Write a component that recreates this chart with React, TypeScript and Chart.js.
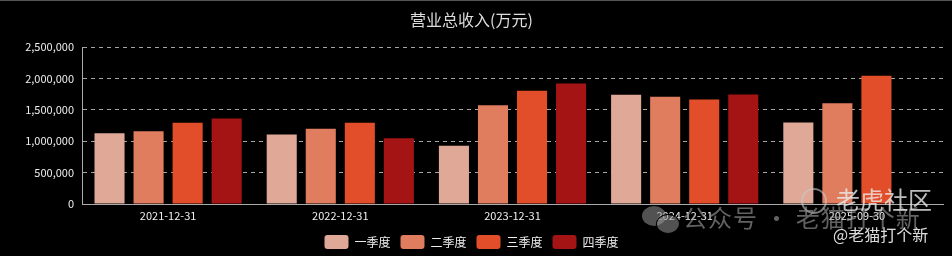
import React, { useEffect, useRef } from "react";
import { Chart, registerables } from "chart.js";

Chart.register(...registerables);

const categories = ["2021-12-31", "2022-12-31", "2023-12-31", "2024-12-31", "2025-09-30"];
const seriesNames = ["一季度", "二季度", "三季度", "四季度"];
const q1 = [1130000, 1110000, 930000, 1740000, 1300000];
const q2 = [1160000, 1200000, 1576000, 1710000, 1608000];
const q3 = [1295000, 1295000, 1804000, 1667000, 2043000];
const q4 = [1364000, 1050000, 1920000, 1746000, null];
const seriesColors = ["#E0A897", "#E17D5F", "#E34E2A", "#A51414"];
const yTicks = [0, 500000, 1000000, 1500000, 2000000, 2500000];

const FONT = "'Noto Sans CJK SC', 'Noto Sans', sans-serif";

export default function App() {
  const ref = useRef<HTMLCanvasElement | null>(null);

  useEffect(() => {
    document.body.style.margin = "0";
    document.body.style.background = "#000";
    const ctx = ref.current!.getContext("2d")!;
    const values = [q1, q2, q3, q4];
    const chart = new Chart(ctx, {
      type: "bar",
      data: {
        labels: categories,
        datasets: seriesNames.map((name, i) => ({
          label: name,
          data: values[i],
          backgroundColor: seriesColors[i],
          borderWidth: 0,
          categoryPercentage: 0.907,
          barPercentage: 0.77,
        })),
      },
      options: {
        animation: false,
        responsive: false,
        maintainAspectRatio: false,
        layout: { padding: { left: 0, right: 9, top: 0, bottom: -3 } },
        plugins: {
          title: {
            display: true,
            text: "营业总收入(万元)",
            color: "#dddddd",
            font: { family: FONT, size: 16, weight: "normal" },
            padding: { top: 10, bottom: 18 },
          },
          legend: {
            position: "bottom",
            labels: {
              color: "#eeeeee",
              font: { family: FONT, size: 12 },
              boxWidth: 24,
              boxHeight: 14,
              padding: 10,
              useBorderRadius: true,
              borderRadius: 3,
            },
          },
          tooltip: { enabled: false },
        },
        scales: {
          x: {
            grid: { display: false, drawTicks: false },
            border: { display: true, color: "#aaaaaa" },
            ticks: {
              color: "#eeeeee",
              font: { family: FONT, size: 11 },
              padding: 5,
              maxRotation: 0,
            },
            afterFit: (s: any) => {
              s.height = 21;
            },
          },
          y: {
            min: 0,
            max: 2500000,
            afterBuildTicks: (s: any) => {
              s.ticks = yTicks.map((v) => ({ value: v }));
            },
            grid: {
              color: "rgba(220,220,220,0.75)",
              drawTicks: false,
            },
            border: { display: true, color: "#aaaaaa", dash: [4, 4] },
            ticks: {
              color: "#eeeeee",
              font: { family: FONT, size: 11 },
              padding: 8,
              callback: (v: any) => Number(v).toLocaleString("en-US"),
            },
            afterFit: (s: any) => {
              s.width = 82;
            },
          },
        },
      },
    });
    return () => chart.destroy();
  }, []);

  return (
    <div style={{ position: "fixed", left: 0, top: 0, width: 952, height: 256, background: "#000", overflow: "hidden" }}>
      <div style={{ position: "absolute", left: 0, top: 0, width: 952, height: 1, background: "#555" }} />
      <canvas ref={ref} width={952} height={256} style={{ display: "block", width: 952, height: 256 }} />
      <div style={{ position: "absolute", left: 642, top: 206, width: 24, height: 20, borderRadius: "50%", background: "rgba(150,150,150,0.55)", pointerEvents: "none" }} />
      <div style={{ position: "absolute", left: 656, top: 214, width: 22, height: 18, borderRadius: "50%", background: "rgba(150,150,150,0.55)", border: "1px solid #000", pointerEvents: "none" }} />
      <div style={{ position: "absolute", left: 801, top: 188, width: 22, height: 22, borderRadius: "50%", border: "2px solid rgba(200,200,200,0.6)", pointerEvents: "none" }} />
      <div
        style={{
          position: "absolute", left: 683, top: 199, fontFamily: FONT, fontSize: 24, letterSpacing: 1,
          color: "rgba(150,150,150,0.65)", whiteSpace: "nowrap", pointerEvents: "none",
        }}
      >
        公众号 · 老猫打个新
      </div>
      <div
        style={{
          position: "absolute", left: 836, top: 181, fontFamily: FONT, fontSize: 24,
          color: "rgba(235,235,235,0.8)", whiteSpace: "nowrap", pointerEvents: "none",
        }}
      >
        老虎社区
      </div>
      <div
        style={{
          position: "absolute", left: 833, top: 222, fontFamily: FONT, fontSize: 16,
          color: "rgba(245,245,245,0.9)", whiteSpace: "nowrap", pointerEvents: "none",
        }}
      >
        @老猫打个新
      </div>
    </div>
  );
}
